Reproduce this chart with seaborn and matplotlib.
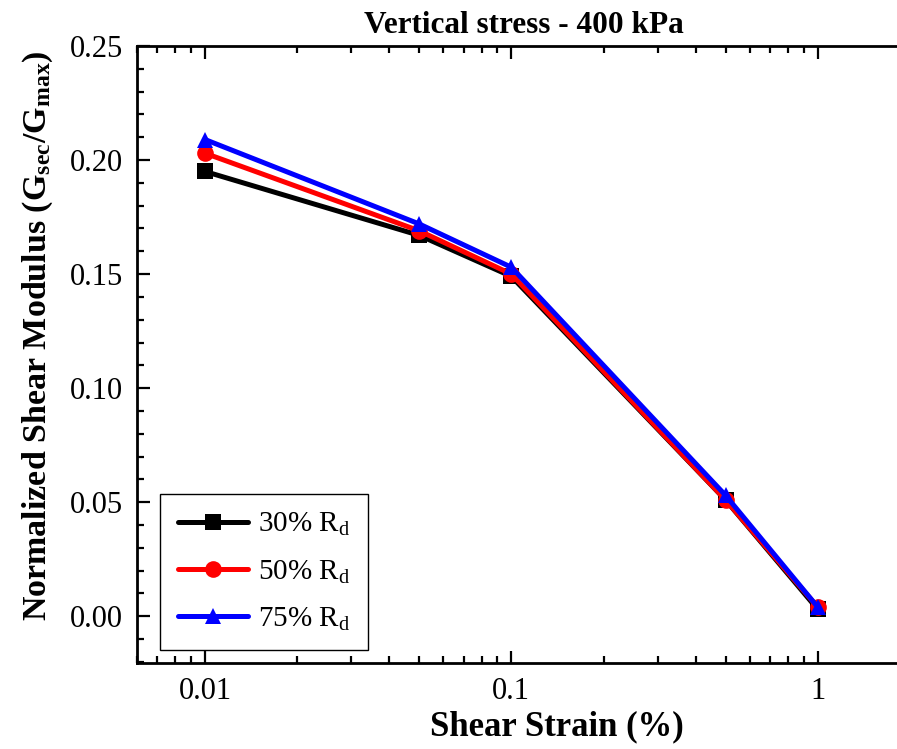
import matplotlib
matplotlib.use("Agg")
import matplotlib.pyplot as plt
import seaborn as sns
import pandas as pd
from matplotlib.ticker import LogLocator, FixedLocator, MultipleLocator, FuncFormatter

# Shear strain (%) and normalized secant shear modulus for three relative densities
strain = [0.01, 0.05, 0.1, 0.5, 1.0]
g_rd30 = [0.195, 0.167, 0.149, 0.051, 0.003]
g_rd50 = [0.203, 0.169, 0.150, 0.051, 0.004]
g_rd75 = [0.209, 0.172, 0.153, 0.053, 0.004]
series_labels = ["30% R$_\\mathregular{d}$", "50% R$_\\mathregular{d}$", "75% R$_\\mathregular{d}$"]
x_tick_values = [0.01, 0.1, 1]
x_tick_labels = ["0.01", "0.1", "1"]

sns.set_theme(style="ticks")
plt.rcParams["font.family"] = ["Liberation Serif", "DejaVu Serif"]
plt.rcParams["mathtext.fontset"] = "custom"
plt.rcParams["mathtext.rm"] = "Liberation Serif"
plt.rcParams["mathtext.it"] = "Liberation Serif:italic"
plt.rcParams["mathtext.bf"] = "Liberation Serif:bold"
for key in ["text.color", "axes.labelcolor", "xtick.color", "ytick.color", "axes.edgecolor"]:
    plt.rcParams[key] = "black"

df = pd.concat([
    pd.DataFrame({"strain": strain, "G": vals, "series": lab})
    for vals, lab in zip([g_rd30, g_rd50, g_rd75], series_labels)
], ignore_index=True)

fig = plt.figure(figsize=(8.97, 7.49), dpi=100)
ax = fig.add_axes([0.1527, 0.1148, 0.8618, 0.8238])

palette = dict(zip(series_labels, ["#000000", "#ff0000", "#0000ff"]))
markers = dict(zip(series_labels, ["s", "o", "^"]))
sns.lineplot(data=df, x="strain", y="G", hue="series", style="series",
             palette=palette, markers=markers, dashes=False, linewidth=3.6,
             markersize=12, markeredgewidth=0, ax=ax, legend=True)

ax.set_xscale("log")
ax.set_xlim(0.006, 2.0)
ax.set_ylim(-0.0205, 0.25)

ax.xaxis.set_major_locator(FixedLocator(x_tick_values))
ax.xaxis.set_major_formatter(FuncFormatter(lambda v, p: dict(zip(x_tick_values, x_tick_labels)).get(v, "")))
ax.xaxis.set_minor_locator(LogLocator(base=10, subs=range(2, 10), numticks=20))
ax.xaxis.set_minor_formatter(FuncFormatter(lambda v, p: ""))
ax.yaxis.set_major_locator(MultipleLocator(0.05))
ax.yaxis.set_minor_locator(MultipleLocator(0.01))
ax.yaxis.set_major_formatter(FuncFormatter(lambda v, p: f"{v:.2f}"))

ax.tick_params(axis="both", which="both", direction="in", top=True, right=True,
               width=1.6, labelsize=22, colors="black")
ax.tick_params(axis="both", which="major", length=9, pad=10)
ax.tick_params(axis="both", which="minor", length=5)
for s in ax.spines.values():
    s.set_linewidth(2.0)
    s.set_color("black")

ax.set_xlabel("Shear Strain (%)", fontsize=25, fontweight="bold")
ax.xaxis.set_label_coords(0.543, -0.077)
ax.set_ylabel("Normalized Shear Modulus (G$_{\\mathbf{sec}}$/G$_{\\mathbf{max}}$)",
              fontsize=24.5, fontweight="bold")
ax.yaxis.set_label_coords(-0.106, 0.53)
ax.set_title("Vertical stress - 400 kPa", fontsize=22.5, fontweight="bold", pad=9)

handles, labels = ax.get_legend_handles_labels()
leg = ax.legend(handles, labels, loc="lower left", bbox_to_anchor=(0.03, 0.021),
                borderaxespad=0, fontsize=21, frameon=True, fancybox=False, framealpha=1,
                edgecolor="black", handlelength=2.4, borderpad=0.6, labelspacing=0.68,
                handletextpad=0.35)
leg.get_frame().set_linewidth(1.0)
for line in leg.get_lines():
    line.set_linewidth(3.6)

fig.savefig("out.png", dpi=100)
